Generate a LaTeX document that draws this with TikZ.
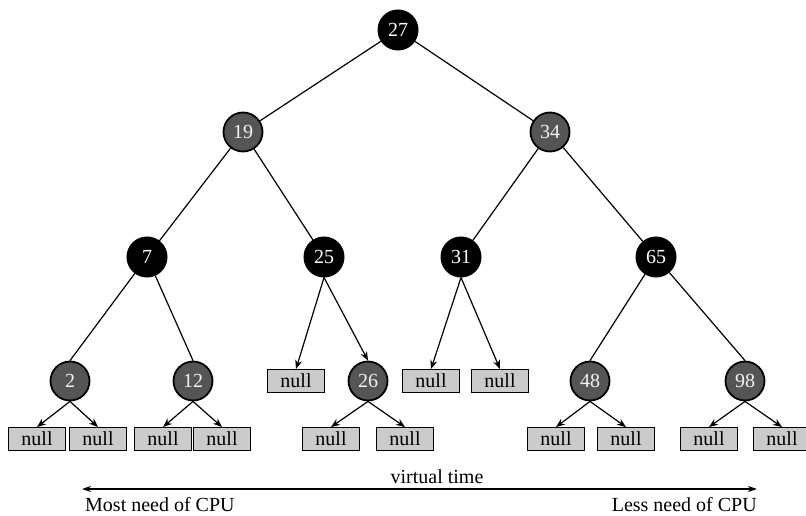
\documentclass[tikz,border=0pt]{standalone}
\usepackage{fontspec}
\setmainfont{Liberation Serif}
\usetikzlibrary{arrows.meta}
\definecolor{darkfill}{HTML}{555555}
\definecolor{boxfill}{HTML}{CBCBCB}
\definecolor{numtext}{HTML}{F2F2F2}
\tikzset{
  blk/.style={circle, fill=black, draw=black, line width=1pt, minimum size=40pt,
    inner sep=0pt, text=white, font=\fontsize{20}{24}\selectfont},
  gry/.style={circle, fill=darkfill, draw=black, line width=1.8pt, minimum size=39pt,
    inner sep=0pt, text=numtext, font=\fontsize{20}{24}\selectfont},
  nil/.style={rectangle, fill=boxfill, draw=black, line width=0.9pt,
    minimum width=57pt, minimum height=23pt, inner sep=0pt,
    font=\fontsize{20}{24}\selectfont},
  link/.style={line width=1.2pt},
  ptr/.style={line width=1.2pt, -{Stealth[length=9pt,width=7pt]}},
  caption/.style={font=\fontsize{20}{24}\selectfont, inner sep=0pt},
}
\begin{document}
\begin{tikzpicture}[x=1pt, y=-1pt]
\useasboundingbox (0,0) rectangle (806,516);
% tree nodes
\node[blk] (n27) at (398,30)  {27};
\node[gry] (n19) at (243,132) {19};
\node[gry] (n34) at (550,132) {34};
\node[blk] (n7)  at (147,257) {7};
\node[blk] (n25) at (324,257) {25};
\node[blk] (n31) at (461,257) {31};
\node[blk] (n65) at (656,257) {65};
\node[gry] (n2)  at (70,381)  {2};
\node[gry] (n12) at (193,381) {12};
\node[gry] (n26) at (368,381) {26};
\node[gry] (n48) at (590,381) {48};
\node[gry] (n98) at (745,381) {98};
% null leaves on the third level
\node[nil] (z25)  at (296,381) {null};
\node[nil] (z31a) at (431,381) {null};
\node[nil] (z31b) at (500,381) {null};
% null leaves on the bottom level
\node[nil] (z2a)  at (37,439)  {null};
\node[nil] (z2b)  at (98,439)  {null};
\node[nil] (z12a) at (163,439) {null};
\node[nil] (z12b) at (222,439) {null};
\node[nil] (z26a) at (331,439) {null};
\node[nil] (z26b) at (405,439) {null};
\node[nil] (z48a) at (556,439) {null};
\node[nil] (z48b) at (626,439) {null};
\node[nil] (z98a) at (709,439) {null};
\node[nil] (z98b) at (782,439) {null};
% plain links between tree nodes
\draw[link] (n27) -- (n19);
\draw[link] (n27) -- (n34);
\draw[link] (n19) -- (n7);
\draw[link] (n19) -- (n25);
\draw[link] (n34) -- (n31);
\draw[link] (n34) -- (n65);
\draw[link] (n7) -- (n2.north);
\draw[link] (n7) -- (n12.north);
\draw[link] (n65) -- (n48.north);
\draw[link] (n65) -- (n98.north);
% pointers
\draw[ptr] (n25.south) -- (z25.north);
\draw[ptr] (n25.south) -- (n26.north);
\draw[ptr] (n31.south) -- (z31a.north);
\draw[ptr] (n31.south) -- (z31b.north);
\draw[ptr] (n2.south) -- (z2a.north);
\draw[ptr] (n2.south) -- (z2b.north);
\draw[ptr] (n12.south) -- (z12a.north);
\draw[ptr] (n12.south) -- (z12b.north);
\draw[ptr] (n26.south) -- (z26a.north);
\draw[ptr] (n26.south) -- (z26b.north);
\draw[ptr] (n48.south) -- (z48a.north);
\draw[ptr] (n48.south) -- (z48b.north);
\draw[ptr] (n98.south) -- (z98a.north);
\draw[ptr] (n98.south) -- (z98b.north);
% virtual time axis
\coordinate (tl) at (82,489);
\coordinate (tr) at (757,489);
\draw[line width=1.2pt, {Stealth[length=9pt,width=6pt]}-{Stealth[length=9pt,width=6pt]}] (tl) -- (tr);
\node[caption] (vt) at (437,477) {virtual time};
\node[caption, anchor=west] (most) at (85,505) {Most need of CPU};
\node[caption, anchor=east] (less) at (757,505) {Less need of CPU};
\end{tikzpicture}
\end{document}
